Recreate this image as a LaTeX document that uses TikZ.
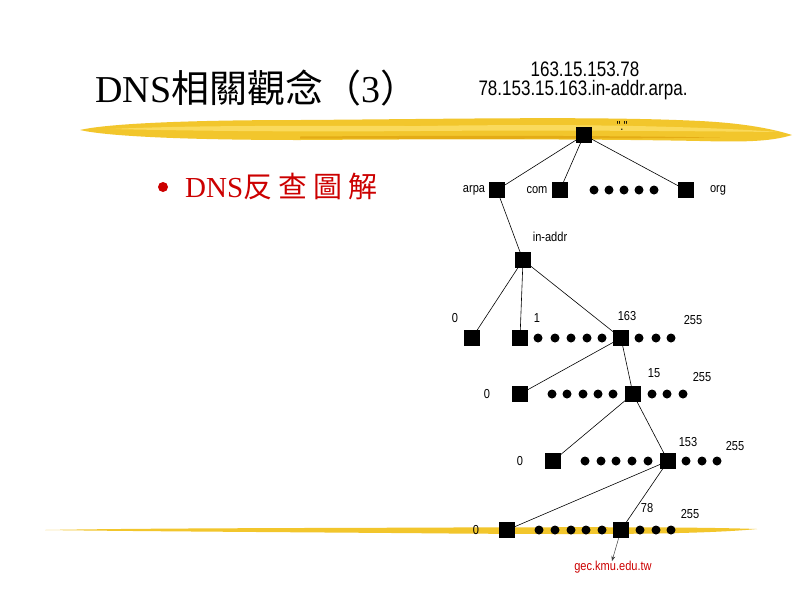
\documentclass[tikz,border=0pt]{standalone}
\usepackage{graphicx}
\usepackage{fontspec}
\setmainfont{Liberation Serif}
\newfontfamily\cjkf{Noto Sans CJK TC}
\newfontfamily\labf{Liberation Sans}
\usetikzlibrary{arrows.meta}
\definecolor{brush}{RGB}{242,198,44}
\definecolor{brushlt}{RGB}{250,218,92}
\definecolor{brushdk}{RGB}{228,172,22}
\definecolor{dnsred}{RGB}{204,0,0}
\newcommand\lbl[1]{\scalebox{0.85}[1]{#1}}
\newcommand\toplbl[1]{\scalebox{0.81}[1]{#1}}
\begin{document}
\begin{tikzpicture}[x=1pt,y=-1pt,
  sq/.style={fill=black,minimum size=16pt,inner sep=0pt,outer sep=0pt},
  dt/.style={circle,fill=black,minimum size=9pt,inner sep=0pt,outer sep=0pt},
  lab/.style={font=\labf\fontsize{13}{13}\selectfont,inner sep=0pt},
  toplab/.style={font=\labf\fontsize{21}{21}\selectfont,inner sep=0pt},
  edge/.style={draw=black,line width=0.6pt}]
\useasboundingbox (0,0) rectangle (794,595);
\fill[white] (0,0) rectangle (794,595);
% brush strokes
\fill[brush] (80,130) .. controls (110,123) and (200,120) .. (300,120)
  .. controls (450,119) and (600,116) .. (700,121)
  .. controls (740,123) and (770,128) .. (792,135)
  .. controls (770,142) and (740,142) .. (700,141)
  .. controls (600,139) and (450,139) .. (300,140)
  .. controls (200,140) and (110,137) .. (80,130) -- cycle;
\fill[brushlt] (110,129) .. controls (200,125) and (300,126) .. (420,126)
  .. controls (550,124) and (680,125) .. (780,132)
  .. controls (680,131) and (550,130) .. (420,131)
  .. controls (300,132) and (200,131) .. (110,129) -- cycle;
\fill[brushdk] (300,136.5) .. controls (450,135.5) and (600,135.5) .. (720,137.5)
  .. controls (600,139) and (450,139) .. (300,138.5) -- cycle;
\fill[brush] (45,530) .. controls (150,528) and (350,528) .. (450,527.5)
  .. controls (600,527) and (700,527) .. (757,529)
  .. controls (700,534.5) and (600,534.5) .. (450,533.5)
  .. controls (350,532.5) and (150,531.5) .. (45,530) -- cycle;
% title
\node[anchor=base west,inner sep=0pt] (title) at (95,102)
  {\fontsize{38}{38}\selectfont DNS{\cjkf 相關觀念（}3{\cjkf ）}};
\node[circle,fill=dnsred,minimum size=10pt,inner sep=0pt] (bul) at (163,187) {};
\node[anchor=base west,inner sep=0pt,text=dnsred] (sub) at (185,197)
  {\fontsize{29}{29}\selectfont DNS{\cjkf 反\kern6pt 查\kern6pt 圖\kern6pt 解}};
% top labels
\node[toplab] (ip) at (585,69) {\toplbl{163.15.153.78}};
\node[toplab] (rev) at (583,90) {\toplbl{78.153.15.163.in-addr.arpa.}};
% squares
\node[sq] (root) at (584,135) {};
\node[sq] (arpa) at (497,190) {};
\node[sq] (com) at (560,190) {};
\node[sq] (org) at (686,190) {};
\node[sq] (inaddr) at (523,260) {};
\node[sq] (n0) at (472,338) {};
\node[sq] (n1) at (520,338) {};
\node[sq] (n163) at (621,338) {};
\node[sq] (m0) at (520,394) {};
\node[sq] (m15) at (633,394) {};
\node[sq] (k0) at (553,461) {};
\node[sq] (k153) at (668,461) {};
\node[sq] (j0) at (507,530) {};
\node[sq] (j78) at (621,530) {};
% dots
\foreach \x [count=\i] in {594,609,624,639,654} \node[dt] (da\i) at (\x,190) {};
\foreach \x [count=\i] in {538,555,571,587,602} \node[dt] (db\i) at (\x,338) {};
\foreach \x [count=\i] in {639,656,671} \node[dt] (dc\i) at (\x,338) {};
\foreach \x [count=\i] in {552,567,583,598,613} \node[dt] (dd\i) at (\x,394) {};
\foreach \x [count=\i] in {652,667,683} \node[dt] (de\i) at (\x,394) {};
\foreach \x [count=\i] in {585,601,616,632,648} \node[dt] (df\i) at (\x,461) {};
\foreach \x [count=\i] in {686,702,717} \node[dt] (dg\i) at (\x,461) {};
\foreach \x [count=\i] in {539,555,571,586,602} \node[dt] (dh\i) at (\x,530) {};
\foreach \x [count=\i] in {640,656,671} \node[dt] (di\i) at (\x,530) {};
% labels
\node[lab] (lroot) at (622,126) {\lbl{"."}};
\node[lab] (larpa) at (474,190) {\lbl{arpa}};
\node[lab] (lcom) at (537,190) {\lbl{com}};
\node[lab] (lorg) at (718,190) {\lbl{org}};
\node[lab] (linaddr) at (550,237) {\lbl{in-addr}};
\node[lab] (ln0) at (455,318) {\lbl{0}};
\node[lab] (ln1) at (537,318) {\lbl{1}};
\node[lab] (ln163) at (627,316) {\lbl{163}};
\node[lab] (ln255) at (693,320) {\lbl{255}};
\node[lab] (lm0) at (487,394) {\lbl{0}};
\node[lab] (lm15) at (654,373) {\lbl{15}};
\node[lab] (lm255) at (702,377) {\lbl{255}};
\node[lab] (lk0) at (520,461) {\lbl{0}};
\node[lab] (lk153) at (688,442) {\lbl{153}};
\node[lab] (lk255) at (735,446) {\lbl{255}};
\node[lab] (lj0) at (476,530) {\lbl{0}};
\node[lab] (lj78) at (647,508) {\lbl{78}};
\node[lab] (lj255) at (690,514) {\lbl{255}};
\node[lab,text=dnsred] (gec) at (613,567) {\lbl{gec.kmu.edu.tw}};
\coordinate (tip) at (612,561);
% edges
\draw[edge] (root) -- (arpa);
\draw[edge] (root) -- (com);
\draw[edge] (root) -- (org);
\draw[edge] (arpa) -- (inaddr);
\draw[edge] (inaddr) -- (n0);
\draw[edge] (inaddr) -- (n1);
\draw[edge] (inaddr) -- (n163);
\draw[edge] (n163) -- (m0);
\draw[edge] (n163) -- (m15);
\draw[edge] (m15) -- (k0);
\draw[edge] (m15) -- (k153);
\draw[edge] (k153) -- (j0);
\draw[edge] (k153) -- (j78);
\draw[draw=black!75,line width=0.5pt,-{Stealth[length=5pt,width=4pt]}] (j78) -- (tip);
\end{tikzpicture}
\end{document}
